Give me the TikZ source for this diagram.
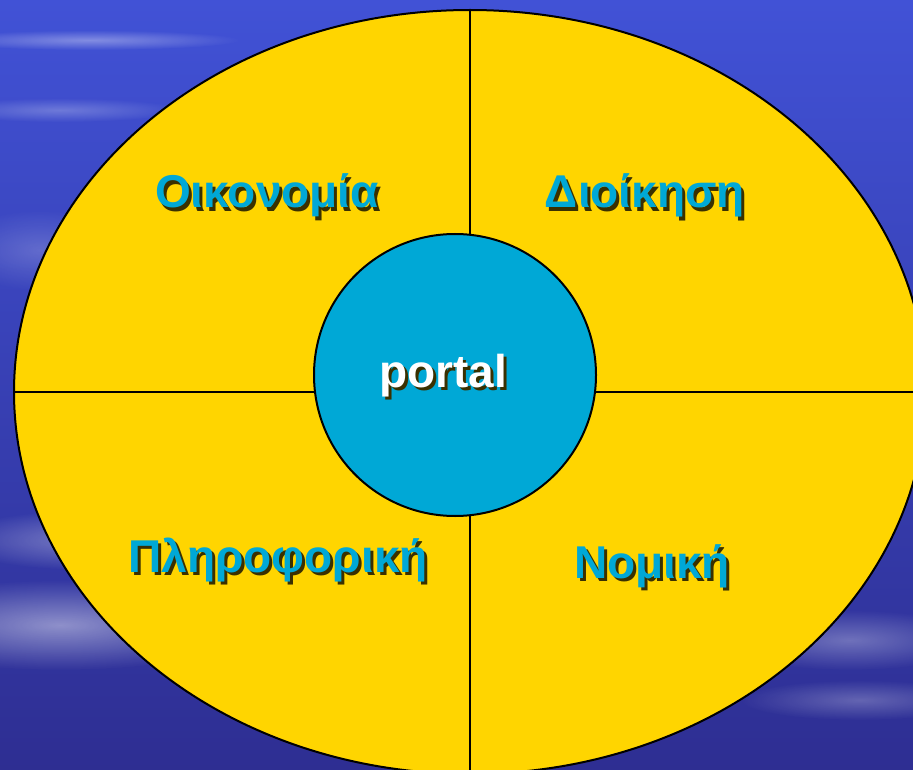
\documentclass[tikz,border=0pt]{standalone}
\usepackage{fontspec}
\setmainfont{Liberation Sans}
\usepackage{tikz}
\usetikzlibrary{shapes.geometric, fadings}
\usepackage{xcolor}
\definecolor{skyTop}{HTML}{4152D6}
\definecolor{skyBot}{HTML}{2E2E92}
\definecolor{yellowC}{HTML}{FFD500}
\definecolor{cyanC}{HTML}{00A8D6}
\definecolor{shadowC}{HTML}{3A3000}
\tikzfading[name=soft glow, inner color=transparent!0, outer color=transparent!100]
\newcommand{\shtxt}[2]{\makebox[0pt][l]{\hspace{3pt}\raisebox{-3pt}{\color{shadowC}#2}}{\color{#1}#2}}
\tikzset{
  oval/.style={ellipse, draw=black, fill=yellowC, line width=2pt, inner sep=0pt, minimum width=912pt, minimum height=764pt},
  hub/.style={circle, draw=black, fill=cyanC, line width=2pt, inner sep=0pt, minimum size=282pt},
  split/.style={draw=black, line width=2pt},
  area/.style={anchor=base, font=\fontsize{46}{50}\selectfont\bfseries, inner sep=0pt},
  streak/.style={white, path fading=soft glow}
}
\begin{document}
\begin{tikzpicture}[x=1pt, y=-1pt]
  \useasboundingbox (0,0) rectangle (913,770);
  \clip (0,0) rectangle (913,770);

  % ── Background ──
  \shade[top color=skyTop, bottom color=skyBot] (0,0) rectangle (913,770);
  \fill[streak, opacity=0.35] (90,40) ellipse (150 and 10);
  \fill[streak, opacity=0.25] (60,110) ellipse (120 and 12);
  \fill[streak, opacity=0.2] (40,250) ellipse (90 and 40);
  \fill[streak, opacity=0.45] (60,625) ellipse (200 and 45);
  \fill[streak, opacity=0.35] (90,540) ellipse (140 and 30);
  \fill[streak, opacity=0.3] (850,640) ellipse (130 and 30);
  \fill[streak, opacity=0.25] (860,700) ellipse (120 and 20);

  % ── Oval and quadrants ──
  \node[oval] (oval) at (470,392) {};
  \draw[split] (oval.north) -- (oval.south);
  \draw[split] (oval.west) -- (oval.east);

  % ── Centre ──
  \node[hub] (hub) at (455,375) {};
  \node[area] (portal) at (443,387) {\shtxt{white}{portal}};

  % ── Areas ──
  \node[area] (oiko) at (267,208) {\shtxt{cyanC}{Οικονομία}};
  \node[area] (dioik) at (645,208) {\shtxt{cyanC}{Διοίκηση}};
  \node[area] (plir) at (278,572) {\shtxt{cyanC}{Πληροφορική}};
  \node[area] (nomi) at (652,578) {\shtxt{cyanC}{Νομική}};
\end{tikzpicture}
\end{document}
